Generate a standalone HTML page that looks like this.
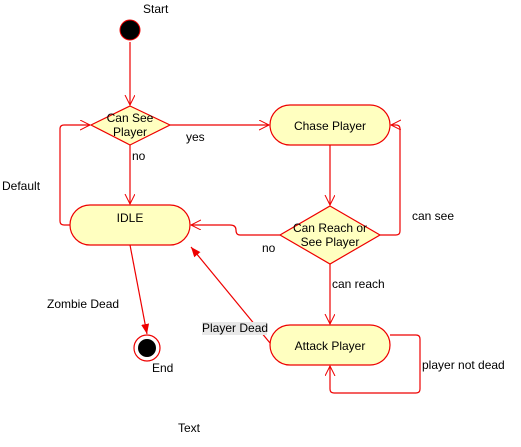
<!DOCTYPE html>
<html><head><style>body{margin:0;background:#fff}</style></head><body>
<svg width="521" height="442" xmlns="http://www.w3.org/2000/svg" font-family="Liberation Sans, sans-serif" font-size="12" fill="#000">
<defs><marker id="a" markerWidth="12" markerHeight="12" refX="10" refY="5" orient="auto" markerUnits="userSpaceOnUse"><path d="M0,0 L10,5 L0,10" fill="none" stroke="#e00" stroke-width="1"/></marker>
<marker id="f" markerWidth="12" markerHeight="12" refX="10" refY="5" orient="auto" markerUnits="userSpaceOnUse"><path d="M0,1 L10,5 L0,9 z" fill="#e00"/></marker></defs>
<g stroke="#e00" stroke-width="1.2" fill="none">
<line x1="130" y1="42" x2="130" y2="105" marker-end="url(#a)"/>
<line x1="130" y1="145" x2="130" y2="204" marker-end="url(#a)"/>
<path d="M70,225 H64 Q60,225 60,221 V129 Q60,125 64,125 H90" marker-end="url(#a)"/>
<line x1="170" y1="125" x2="269" y2="125" marker-end="url(#a)"/>
<line x1="330" y1="145" x2="330" y2="205" marker-end="url(#a)"/>
<path d="M380,235 H396 Q400,235 400,231 V129 Q400,125 396,125 H391" marker-end="url(#a)"/>
<path d="M280,235 H240 Q236,235 236,230 Q236,225 230,225 H191" marker-end="url(#a)"/>
<line x1="330" y1="264" x2="330" y2="324" marker-end="url(#a)"/>
<line x1="270" y1="343" x2="191" y2="247" marker-end="url(#f)"/>
<path d="M390,335 H416 Q420,335 420,339 V389 Q420,393 416,393 H334 Q330,393 330,389 V366" marker-end="url(#a)"/>
<line x1="130" y1="245" x2="147" y2="334" marker-end="url(#f)"/>
</g>
<circle cx="130" cy="30" r="10" fill="#000" stroke="#e00"/>
<polygon points="130,106 170,125 130,145 91,125" fill="#ffffc0" stroke="#e00" stroke-width="1.2"/>
<polygon points="330,206 380,235 330,264 280,235" fill="#ffffc0" stroke="#e00" stroke-width="1.2"/>
<rect x="70" y="205" width="120" height="40" rx="20" fill="#ffffc0" stroke="#e00" stroke-width="1.2"/>
<rect x="270" y="105" width="120" height="40" rx="20" fill="#ffffc0" stroke="#e00" stroke-width="1.2"/>
<rect x="270" y="325" width="120" height="40" rx="20" fill="#ffffc0" stroke="#e00" stroke-width="1.2"/>
<circle cx="147" cy="348" r="13" fill="#fff" stroke="#e00" stroke-width="1.2"/>
<circle cx="147" cy="348" r="9" fill="#000"/>
<g text-anchor="middle">
<text x="130" y="122">Can See</text><text x="130" y="136">Player</text>
<text x="330" y="232">Can Reach or</text><text x="330" y="246">See Player</text>
<text x="130" y="222">IDLE</text>
<text x="330" y="130">Chase Player</text>
<text x="330" y="350">Attack Player</text>
</g>
<text x="143" y="13">Start</text>
<text x="186" y="141">yes</text>
<text x="132" y="160">no</text>
<text x="2" y="190">Default</text>
<text x="412" y="220">can see</text>
<text x="262" y="252">no</text>
<text x="332" y="288">can reach</text>
<rect x="202" y="322" width="65" height="13" fill="#e8e8e8"/>
<text x="202" y="332">Player Dead</text>
<text x="422" y="369">player not dead</text>
<text x="47" y="308">Zombie Dead</text>
<text x="152" y="372">End</text>
<text x="178" y="432">Text</text>
</svg>
</body></html>
